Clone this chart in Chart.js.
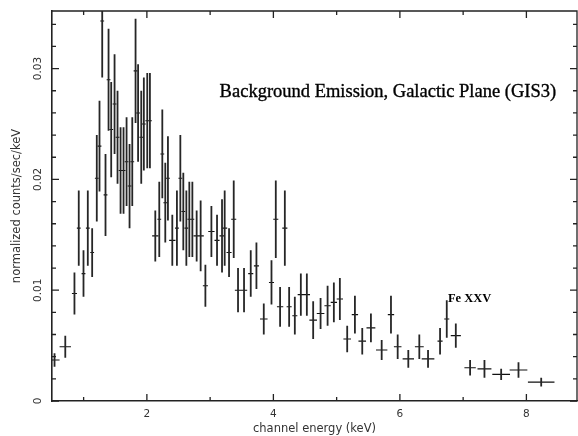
<!DOCTYPE html>
<html>
<head>
<meta charset="utf-8">
<script src="https://cdn.jsdelivr.net/npm/chart.js@4.4.1/dist/chart.umd.min.js"></script>
<style>
  html, body { margin: 0; padding: 0; background: #fff; }
  #wrap { width: 578px; height: 436px; }
</style>
</head>
<body>
<div id="wrap"><canvas id="c"></canvas></div>
<script>
// GIS3 background spectrum, galactic plane
// channel energy (keV) and half bin width
var energy = [0.54, 0.71, 0.855, 0.923, 0.998, 1.066, 1.135, 1.208, 1.251, 1.294,
  1.346, 1.394, 1.436, 1.489, 1.536, 1.584, 1.631, 1.679, 1.726, 1.769,
  1.821, 1.861, 1.911, 1.952, 2.006, 2.048, 2.133, 2.196, 2.244, 2.291,
  2.333, 2.402, 2.475, 2.529, 2.576, 2.624, 2.671, 2.719, 2.787, 2.850,
  2.925, 3.020, 3.109, 3.188, 3.230, 3.299, 3.373, 3.441, 3.536, 3.642,
  3.732, 3.848, 3.970, 4.038, 4.106, 4.181, 4.249, 4.339, 4.434, 4.529,
  4.629, 4.746, 4.857, 4.956, 5.051, 5.167, 5.289, 5.405, 5.542, 5.712,
  5.859, 5.965, 6.133, 6.307, 6.445, 6.635, 6.741, 6.884, 7.110, 7.337,
  7.601, 7.875, 8.234];
var energyErr = [0.08, 0.09, 0.04, 0.03, 0.03, 0.03, 0.03, 0.03, 0.03, 0.03,
  0.03, 0.03, 0.03, 0.03, 0.03, 0.03, 0.03, 0.03, 0.03, 0.03,
  0.03, 0.03, 0.03, 0.03, 0.03, 0.03, 0.05, 0.03, 0.03, 0.03,
  0.03, 0.05, 0.03, 0.03, 0.03, 0.03, 0.03, 0.03, 0.05, 0.05,
  0.04, 0.05, 0.04, 0.04, 0.04, 0.04, 0.04, 0.05, 0.05, 0.04,
  0.04, 0.06, 0.04, 0.04, 0.05, 0.04, 0.04, 0.04, 0.05, 0.05,
  0.06, 0.06, 0.05, 0.05, 0.05, 0.06, 0.05, 0.06, 0.07, 0.09,
  0.05, 0.06, 0.09, 0.07, 0.10, 0.04, 0.04, 0.08, 0.09, 0.11,
  0.14, 0.14, 0.21];
// normalized counts/sec/keV and 1 sigma error
var counts = [0.0037, 0.0049, 0.0097, 0.0156, 0.0115, 0.0156, 0.0134, 0.0201, 0.0230, 0.0343,
  0.0186, 0.0290, 0.0245, 0.0268, 0.0238, 0.0208, 0.0208, 0.0216, 0.0194, 0.0216,
  0.0298, 0.0260, 0.0238, 0.0250, 0.0253, 0.0253, 0.0149, 0.0164, 0.0223, 0.0179,
  0.0201, 0.0145, 0.0156, 0.0201, 0.0171, 0.0156, 0.0164, 0.0164, 0.0149, 0.0149,
  0.0104, 0.0153, 0.0145, 0.0149, 0.0156, 0.0134, 0.0164, 0.0100, 0.0100, 0.0115,
  0.0122, 0.0074, 0.0107, 0.0164, 0.0085, 0.0156, 0.0085, 0.0077, 0.0096, 0.0096,
  0.0073, 0.0079, 0.0086, 0.0089, 0.0092, 0.0056, 0.0078, 0.0054, 0.0066, 0.0046,
  0.0078, 0.0049, 0.0038, 0.0049, 0.0038, 0.0054, 0.0074, 0.0059, 0.0030, 0.0029,
  0.0024, 0.0028, 0.0017];
var countsErr = [0.0006, 0.0010, 0.0019, 0.0034, 0.0021, 0.0034, 0.0022, 0.0039, 0.0041, 0.0051,
  0.0037, 0.0046, 0.0043, 0.0045, 0.0042, 0.0039, 0.0039, 0.0040, 0.0038, 0.0040,
  0.0047, 0.0044, 0.0042, 0.0042, 0.0043, 0.0043, 0.0023, 0.0034, 0.0040, 0.0036,
  0.0038, 0.0023, 0.0034, 0.0039, 0.0035, 0.0034, 0.0034, 0.0034, 0.0023, 0.0032,
  0.0019, 0.0023, 0.0023, 0.0033, 0.0034, 0.0022, 0.0035, 0.0020, 0.0020, 0.0021,
  0.0021, 0.0014, 0.0020, 0.0035, 0.0018, 0.0034, 0.0018, 0.0017, 0.0019, 0.0019,
  0.0017, 0.0014, 0.0018, 0.0018, 0.0019, 0.0012, 0.0017, 0.0012, 0.0013, 0.0009,
  0.0017, 0.0011, 0.0008, 0.0011, 0.0008, 0.0012, 0.0017, 0.0011, 0.0007, 0.0008,
  0.0005, 0.0007, 0.0004];

var xTicks = [1, 2, 3, 4, 5, 6, 7, 8];
var xLabeled = [2, 4, 6, 8];
var yTicks = [0, 0.002, 0.004, 0.006, 0.008, 0.01, 0.012, 0.014, 0.016, 0.018,
  0.02, 0.022, 0.024, 0.026, 0.028, 0.03, 0.032, 0.034];
var yLabeled = [0, 0.01, 0.02, 0.03];
var yLabelText = ['0', '0.01', '0.02', '0.03'];

var titleText = 'Background Emission, Galactic Plane (GIS3)';
var lineText = 'Fe XXV';

// build error bar segments, null breaks the line between points
var xBars = [], yBars = [];
for (var i = 0; i < energy.length; i++) {
  xBars.push({x: energy[i] - energyErr[i], y: counts[i]});
  xBars.push({x: energy[i] + energyErr[i], y: counts[i]});
  xBars.push({x: energy[i], y: null});
  yBars.push({x: energy[i], y: counts[i] - countsErr[i]});
  yBars.push({x: energy[i], y: counts[i] + countsErr[i]});
  yBars.push({x: energy[i], y: null});
}

var ink = '#222';
var axisFont = {family: '"DejaVu Sans", sans-serif', size: 11.5};

// frame, inward ticks, rotated y labels and the text notes
var frameTicks = {
  id: 'frameTicks',
  afterDraw: function(chart) {
    var ctx = chart.ctx, a = chart.chartArea;
    var xs = chart.scales.x, ys = chart.scales.y;
    ctx.save();
    ctx.strokeStyle = ink;
    ctx.lineWidth = 1.3;
    ctx.beginPath();
    ctx.moveTo(a.left, a.top);
    ctx.lineTo(a.right, a.top);
    ctx.lineTo(a.right, a.bottom);
    xTicks.forEach(function(v) {
      var px = xs.getPixelForValue(v);
      var len = xLabeled.indexOf(v) >= 0 ? 7 : 4;
      ctx.moveTo(px, a.bottom); ctx.lineTo(px, a.bottom - len);
      ctx.moveTo(px, a.top); ctx.lineTo(px, a.top + len);
    });
    yTicks.forEach(function(v) {
      var py = ys.getPixelForValue(v);
      var len = yLabeled.indexOf(v) >= 0 ? 7 : 4;
      ctx.moveTo(a.left, py); ctx.lineTo(a.left + len, py);
      ctx.moveTo(a.right, py); ctx.lineTo(a.right - len, py);
    });
    ctx.stroke();

    ctx.fillStyle = '#333';
    ctx.font = '10.5px "DejaVu Sans", sans-serif';
    ctx.textAlign = 'center';
    ctx.textBaseline = 'middle';
    yLabeled.forEach(function(v, k) {
      ctx.save();
      ctx.translate(a.left - 14, ys.getPixelForValue(v));
      ctx.rotate(-Math.PI / 2);
      ctx.fillText(yLabelText[k], 0, 0);
      ctx.restore();
    });

    ctx.fillStyle = '#000';
    ctx.strokeStyle = '#000';
    ctx.lineWidth = 0.35;
    ctx.textAlign = 'left';
    ctx.textBaseline = 'alphabetic';
    ctx.font = '18.5px "Liberation Serif", serif';
    var tx = xs.getPixelForValue(3.15), ty = ys.getPixelForValue(0.0274);
    ctx.fillText(titleText, tx, ty);
    ctx.strokeText(titleText, tx, ty);
    ctx.font = 'bold 12.5px "Liberation Serif", serif';
    ctx.fillText(lineText, xs.getPixelForValue(6.76), ys.getPixelForValue(0.0089));
    ctx.restore();
  }
};

new Chart(document.getElementById('c'), {
  type: 'scatter',
  data: {
    datasets: [
      {data: yBars, showLine: true, spanGaps: false, borderColor: '#262626', borderWidth: 1.8, pointRadius: 0},
      {data: xBars, showLine: true, spanGaps: false, borderColor: '#111', borderWidth: 1.1, pointRadius: 0}
    ]
  },
  options: {
    responsive: true,
    maintainAspectRatio: false,
    animation: false,
    layout: {padding: {top: 11, right: 1, left: 0, bottom: 0}},
    plugins: {legend: {display: false}, tooltip: {enabled: false}},
    scales: {
      x: {
        type: 'linear',
        min: 0.5,
        max: 8.8,
        afterBuildTicks: function(s) { s.ticks = xTicks.map(function(v) { return {value: v}; }); },
        afterFit: function(s) { s.height = 35; },
        grid: {display: false, drawTicks: false},
        border: {display: true, color: ink, width: 1.6},
        ticks: {
          autoSkip: false, maxRotation: 0, padding: 7, color: '#333',
          font: {family: '"DejaVu Sans", sans-serif', size: 10.5},
          callback: function(v) { return xLabeled.indexOf(v) >= 0 ? String(v) : ''; }
        },
        title: {display: true, text: 'channel energy (keV)', color: '#333', font: axisFont, padding: {top: 0, bottom: 0}}
      },
      y: {
        type: 'linear',
        min: 0,
        max: 0.0352,
        afterBuildTicks: function(s) { s.ticks = yTicks.map(function(v) { return {value: v}; }); },
        afterFit: function(s) { s.width = 52; },
        grid: {display: false, drawTicks: false},
        border: {display: true, color: ink, width: 1.6},
        ticks: {display: false},
        title: {display: true, text: 'normalized counts/sec/keV', color: '#333', font: axisFont, padding: {top: 10, bottom: 0}}
      }
    }
  },
  plugins: [frameTicks]
});
</script>
</body>
</html>
